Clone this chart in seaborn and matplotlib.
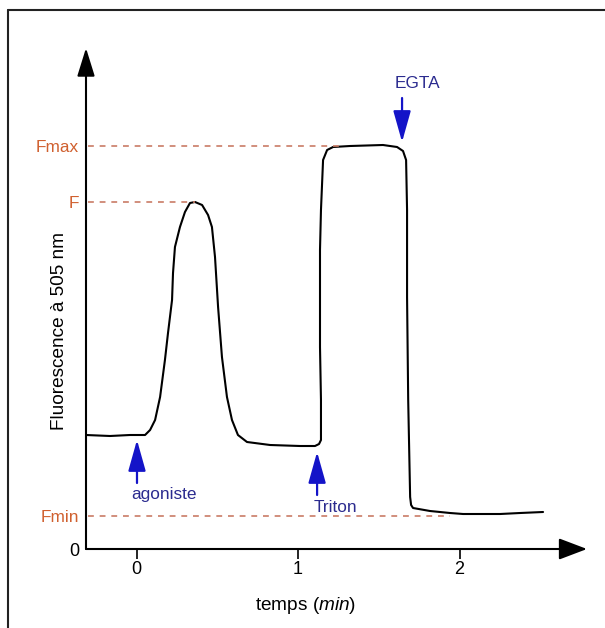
import matplotlib
matplotlib.use("Agg")
import matplotlib.pyplot as plt
import seaborn as sns
import pandas as pd
from matplotlib.lines import Line2D

sns.set_theme(style="white")
plt.rcParams['font.family'] = ['Liberation Sans', 'DejaVu Sans']
plt.rcParams['mathtext.fontset'] = 'custom'
plt.rcParams['mathtext.rm'] = 'Liberation Sans'
plt.rcParams['mathtext.it'] = 'Liberation Sans:italic'

# fluorescence trace (time in min, arbitrary units)
temps = [-0.313, -0.164, -0.040, 0.053, 0.084, 0.115, 0.146, 0.176, 0.195, 0.220,
         0.226, 0.238, 0.269, 0.300, 0.331, 0.362, 0.406, 0.443, 0.467, 0.486,
         0.505, 0.529, 0.560, 0.591, 0.628, 0.684, 0.827, 1.012, 1.105, 1.130,
         1.142, 1.142, 1.136, 1.136, 1.142, 1.155, 1.180, 1.217, 1.322, 1.526,
         1.613, 1.650, 1.669, 1.675, 1.675, 1.682, 1.694, 1.700, 1.712, 1.817,
         1.941, 2.022, 2.251, 2.375, 2.517]
fluo = [28.5, 28.25, 28.5, 28.5, 29.75, 32.25, 38.0, 47.25, 54.0, 62.25,
        69.0, 75.5, 80.5, 84.25, 86.5, 86.75, 86.0, 83.5, 80.5, 73.0,
        60.5, 48.0, 38.0, 32.25, 28.5, 26.75, 26.0, 25.75, 25.75, 26.25,
        27.25, 37.25, 50.5, 74.75, 84.75, 97.25, 99.75, 100.5, 100.75, 101.0,
        100.5, 99.5, 97.25, 84.75, 63.0, 37.25, 13.0, 11.0, 10.25, 9.5,
        9.0, 8.75, 8.75, 9.0, 9.25]

# reference levels
niveaux = [0, 8.25, 86.75, 100.75]
noms_niveaux = ['0', 'Fmin', 'F', 'Fmax']
fin_tirets = [None, 1.94, 0.362, 1.279]   # where each dashed line stops

# additions (label, arrow tail, arrow tip, text position)
ajouts = ['agoniste', 'Triton', 'EGTA']
fleche_de = [(0.003, 16.5), (1.118, 13.5), (1.644, 112.75)]
fleche_a = [(0.003, 27.25), (1.118, 24.25), (1.644, 101.75)]
pos_texte = [(0.170, 13.5), (1.229, 10.25), (1.737, 116.25)]

orange = '#d0602f'
tirets = '#c97c66'
bleu = '#1414c8'
bleu_texte = '#2b2b8f'

df = pd.DataFrame({'temps': temps, 'fluo': fluo})

fig = plt.figure(figsize=(6.05, 6.28), dpi=100)
ax = fig.add_axes([86 / 605, 79 / 628, 501 / 605, 501 / 628])

sns.lineplot(data=df, x='temps', y='fluo', sort=False, estimator=None,
             color='black', lw=1.5, ax=ax)
ax.lines[0].set_solid_joinstyle('round')

for niv, fin in zip(niveaux, fin_tirets):
    if fin is None:
        continue
    ax.plot([-0.30, fin], [niv, niv], color=tirets, lw=1.2, dashes=(3.5, 3.5))

ax.set_xlim(-0.3127, 2.789)
ax.set_ylim(0, 125.25)

# axes with arrow heads
for s in ax.spines.values():
    s.set_visible(False)
ax.annotate('', xy=(1, 0), xytext=(0, 0), xycoords='axes fraction',
            arrowprops=dict(arrowstyle='-|>,head_length=1.45,head_width=0.55',
                            color='black', lw=1.5, shrinkA=0, shrinkB=0))
ax.annotate('', xy=(0, 1), xytext=(0, 0), xycoords='axes fraction',
            arrowprops=dict(arrowstyle='-|>,head_length=1.45,head_width=0.45',
                            color='black', lw=1.5, shrinkA=0, shrinkB=0))

for nom, de, a, pt in zip(ajouts, fleche_de, fleche_a, pos_texte):
    ax.annotate('', xy=a, xytext=de,
                arrowprops=dict(arrowstyle='-|>,head_length=1.6,head_width=0.45',
                                color=bleu, lw=1.6, shrinkA=0, shrinkB=0))
    ax.text(pt[0], pt[1], nom, color=bleu_texte, fontsize=12.4,
            ha='center', va='center')

ax.set_xticks([0, 1, 2])
ax.tick_params(axis='x', bottom=True, length=7, width=1.2, pad=2,
               labelsize=13, colors='black')
ax.set_yticks(niveaux, labels=noms_niveaux)
ax.tick_params(axis='y', left=False, length=0, pad=5, labelsize=12.4)
for lbl, nom in zip(ax.get_yticklabels(), noms_niveaux):
    if nom == '0':
        lbl.set_color('black')
        lbl.set_fontsize(13)
    else:
        lbl.set_color(orange)

ax.set_xlabel('temps $\\mathit{(min)}$', fontsize=13.7, color='black')
ax.xaxis.set_label_coords(0.439, -0.092)
ax.set_ylabel('Fluorescence à 505 nm', fontsize=13.7, color='black')
ax.yaxis.set_label_coords(-0.035, 0.435)
ax.grid(False)

# thin frame around the drawing
fig.add_artist(Line2D([8 / 605, 1], [1 - 10 / 628, 1 - 10 / 628],
                      color='#222222', lw=1.5, transform=fig.transFigure))
fig.add_artist(Line2D([8 / 605, 8 / 605], [0, 1 - 10 / 628],
                      color='#222222', lw=1.5, transform=fig.transFigure))

fig.savefig('out.png', dpi=100)
